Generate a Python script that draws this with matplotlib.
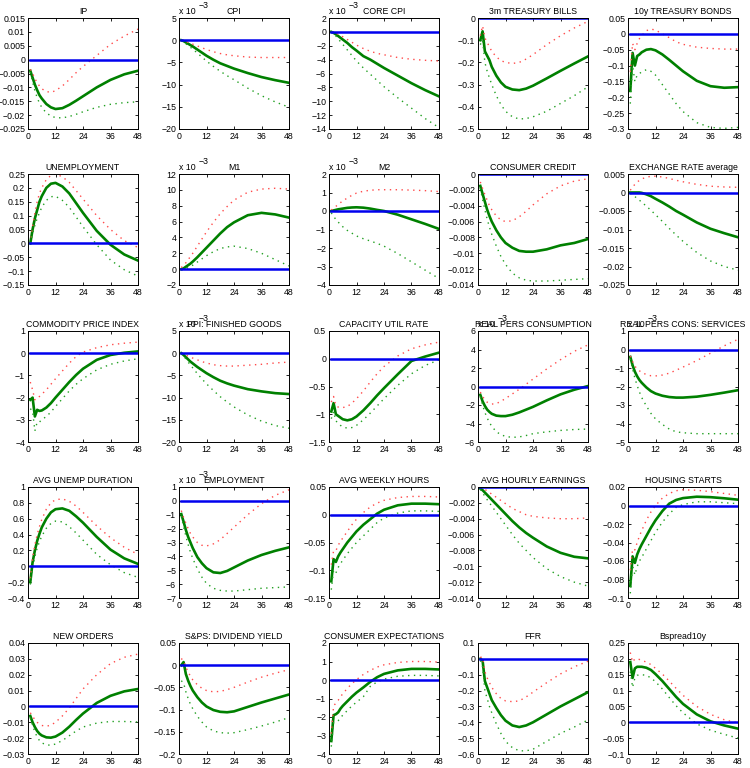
import matplotlib
matplotlib.use('Agg')
import matplotlib.pyplot as plt
from matplotlib.ticker import MultipleLocator, FuncFormatter

plt.rcParams['font.family'] = ['Liberation Sans', 'DejaVu Sans']

H = [1, 2, 3, 4, 5, 6, 8, 10, 12, 15, 18, 21, 24, 30, 36, 42, 48]

# --- row 1 ---
IP = [-0.004, -0.0065, -0.009, -0.011, -0.0128, -0.014, -0.016, -0.0172, -0.0178, -0.0175, -0.0163, -0.0148, -0.0132, -0.0100, -0.0073, -0.0053, -0.004]
IP_HI = [-0.0035, -0.005, -0.0068, -0.0083, -0.0095, -0.0105, -0.0115, -0.0118, -0.0112, -0.0095, -0.0072, -0.0047, -0.0025, 0.0015, 0.0055, 0.0085, 0.011]
IP_LO = [-0.0045, -0.008, -0.0112, -0.0137, -0.0157, -0.0172, -0.0192, -0.0203, -0.0209, -0.021, -0.0205, -0.0197, -0.0188, -0.0172, -0.0161, -0.0155, -0.0152]

CPI = [0, -0.2, -0.5, -0.8, -1.1, -1.4, -2.1, -2.8, -3.5, -4.4, -5.2, -5.8, -6.4, -7.4, -8.3, -9.0, -9.6]
CPI_HI = [0, -0.1, -0.3, -0.5, -0.7, -0.9, -1.3, -1.7, -2.1, -2.6, -3.0, -3.3, -3.5, -3.8, -3.9, -3.9, -3.9]
CPI_LO = [0, -0.4, -0.8, -1.2, -1.6, -2.0, -2.9, -3.8, -4.7, -5.9, -7.0, -8.0, -8.9, -10.8, -12.5, -13.9, -15.1]

CORE = [0, -0.15, -0.35, -0.6, -0.85, -1.1, -1.6, -2.2, -2.7, -3.5, -4.0, -4.6, -5.2, -6.3, -7.4, -8.4, -9.3]
CORE_HI = [0, -0.1, -0.2, -0.35, -0.5, -0.7, -1.1, -1.5, -1.9, -2.4, -2.8, -3.1, -3.3, -3.7, -3.95, -4.1, -4.2]
CORE_LO = [0, -0.3, -0.6, -1.0, -1.4, -1.8, -2.6, -3.4, -4.2, -5.2, -6.1, -7.0, -7.9, -9.5, -11.0, -12.5, -13.8]

TB3 = [-0.10, -0.06, -0.15, -0.17, -0.19, -0.22, -0.26, -0.29, -0.31, -0.322, -0.325, -0.318, -0.305, -0.272, -0.238, -0.205, -0.173]
TB3_HI = [-0.08, -0.035, -0.09, -0.11, -0.13, -0.15, -0.175, -0.192, -0.20, -0.205, -0.20, -0.185, -0.165, -0.12, -0.08, -0.045, -0.015]
TB3_LO = [-0.12, -0.10, -0.20, -0.24, -0.27, -0.30, -0.35, -0.39, -0.42, -0.445, -0.455, -0.453, -0.445, -0.42, -0.385, -0.35, -0.31]

TB10 = [-0.18, -0.06, -0.10, -0.07, -0.065, -0.058, -0.05, -0.048, -0.052, -0.065, -0.082, -0.10, -0.118, -0.148, -0.165, -0.17, -0.168]
TB10_HI = [-0.12, -0.03, -0.05, -0.03, -0.015, -0.005, 0.01, 0.015, 0.012, 0.0, -0.012, -0.025, -0.033, -0.042, -0.046, -0.048, -0.048]
TB10_LO = [-0.22, -0.10, -0.15, -0.13, -0.125, -0.12, -0.113, -0.118, -0.13, -0.16, -0.19, -0.22, -0.245, -0.28, -0.295, -0.298, -0.295]

# --- row 2 ---
UNEMP = [0.0, 0.05, 0.09, 0.12, 0.15, 0.17, 0.20, 0.215, 0.218, 0.205, 0.18, 0.145, 0.11, 0.045, -0.005, -0.04, -0.062]
UNEMP_HI = [0.0, 0.06, 0.11, 0.15, 0.18, 0.20, 0.23, 0.245, 0.25, 0.24, 0.22, 0.19, 0.16, 0.10, 0.05, 0.01, -0.015]
UNEMP_LO = [0.0, 0.035, 0.065, 0.09, 0.11, 0.13, 0.155, 0.168, 0.17, 0.155, 0.13, 0.095, 0.06, -0.005, -0.06, -0.095, -0.118]

M1 = [0, 0.1, 0.3, 0.5, 0.7, 0.95, 1.5, 2.1, 2.7, 3.6, 4.5, 5.3, 5.9, 6.8, 7.1, 6.9, 6.5]
M1_HI = [0.2, 0.5, 0.8, 1.2, 1.6, 2.0, 2.9, 3.8, 4.7, 5.9, 7.0, 7.9, 8.7, 9.7, 10.1, 10.2, 10.1]
M1_LO = [-0.1, -0.05, 0.05, 0.2, 0.35, 0.5, 0.9, 1.3, 1.7, 2.2, 2.6, 2.8, 2.9, 2.6, 2.0, 1.2, 0.4]

M2 = [0, 0.03, 0.06, 0.09, 0.11, 0.13, 0.17, 0.19, 0.2, 0.18, 0.13, 0.06, 0.0, -0.2, -0.45, -0.7, -0.97]
M2_HI = [0.05, 0.15, 0.25, 0.35, 0.45, 0.55, 0.7, 0.85, 0.97, 1.07, 1.12, 1.15, 1.15, 1.15, 1.13, 1.1, 1.05]
M2_LO = [-0.1, -0.3, -0.45, -0.6, -0.72, -0.85, -1.05, -1.2, -1.35, -1.5, -1.62, -1.75, -1.9, -2.3, -2.75, -3.2, -3.65]

CREDIT = [-0.0015, -0.0025, -0.0035, -0.0045, -0.0053, -0.006, -0.0071, -0.008, -0.0087, -0.0093, -0.0097, -0.0098, -0.0098, -0.0095, -0.009, -0.0087, -0.0082]
CREDIT_HI = [-0.001, -0.0018, -0.0026, -0.0033, -0.004, -0.0045, -0.0053, -0.0058, -0.006, -0.0059, -0.0054, -0.0047, -0.0039, -0.0025, -0.0015, -0.0009, -0.0006]
CREDIT_LO = [-0.0018, -0.0032, -0.0045, -0.0057, -0.0067, -0.0076, -0.0091, -0.0104, -0.0114, -0.0125, -0.0131, -0.0134, -0.0135, -0.0135, -0.0134, -0.0133, -0.0132]

EXR = [0, 0, 0, 0, 0, -0.0001, -0.0005, -0.001, -0.0017, -0.0027, -0.0038, -0.005, -0.006, -0.0081, -0.0098, -0.011, -0.0121]
EXR_HI = [0.0006, 0.0015, 0.0022, 0.0028, 0.0033, 0.0037, 0.0041, 0.0044, 0.0044, 0.0042, 0.0038, 0.0033, 0.0029, 0.0022, 0.0017, 0.0015, 0.0014]
EXR_LO = [-0.0002, -0.0006, -0.0011, -0.0016, -0.0021, -0.0026, -0.0037, -0.0048, -0.006, -0.0078, -0.0097, -0.0115, -0.0132, -0.0162, -0.0185, -0.02, -0.021]

# --- row 3 ---
COMM = [-2.1, -2.0, -2.85, -2.55, -2.6, -2.58, -2.45, -2.25, -2.0, -1.65, -1.3, -0.98, -0.7, -0.3, -0.08, 0.02, 0.08]
COMM_HI = [-1.3, -1.65, -2.1, -2.0, -1.95, -1.85, -1.65, -1.4, -1.15, -0.8, -0.45, -0.15, 0.05, 0.25, 0.38, 0.45, 0.5]
COMM_LO = [-2.5, -2.6, -3.5, -3.1, -3.1, -3.0, -2.85, -2.65, -2.4, -2.05, -1.7, -1.4, -1.15, -0.75, -0.5, -0.35, -0.25]

PPI = [0, -0.4, -0.9, -1.4, -1.9, -2.3, -3.1, -3.8, -4.5, -5.4, -6.2, -6.8, -7.3, -8.1, -8.6, -9.0, -9.2]
PPI_HI = [0, -0.2, -0.4, -0.7, -0.9, -1.1, -1.5, -1.9, -2.2, -2.6, -2.8, -2.9, -2.9, -2.7, -2.5, -2.2, -2.0]
PPI_LO = [0, -0.6, -1.3, -2.0, -2.7, -3.3, -4.6, -5.8, -6.9, -8.4, -9.8, -11.0, -12.1, -13.9, -15.3, -16.3, -16.9]

CAPU = [-0.95, -0.8, -1.0, -1.03, -1.06, -1.09, -1.11, -1.09, -1.04, -0.93, -0.8, -0.66, -0.53, -0.28, -0.04, 0.04, 0.11]
CAPU_HI = [-0.78, -0.68, -0.85, -0.87, -0.88, -0.88, -0.86, -0.8, -0.72, -0.58, -0.42, -0.27, -0.14, 0.05, 0.18, 0.25, 0.3]
CAPU_LO = [-1.08, -0.95, -1.12, -1.16, -1.2, -1.23, -1.25, -1.24, -1.2, -1.1, -0.98, -0.85, -0.72, -0.48, -0.27, -0.12, -0.02]

CONS = [-0.9, -1.6, -2.1, -2.5, -2.75, -2.95, -3.15, -3.2, -3.2, -3.05, -2.8, -2.5, -2.2, -1.5, -0.85, -0.35, 0.05]
CONS_HI = [-0.6, -1.1, -1.4, -1.7, -1.8, -1.9, -1.85, -1.6, -1.3, -0.8, -0.3, 0.25, 0.8, 1.9, 2.9, 3.8, 4.5]
CONS_LO = [-1.1, -2.0, -2.8, -3.4, -3.9, -4.3, -4.9, -5.2, -5.4, -5.5, -5.45, -5.3, -5.1, -4.9, -4.75, -4.65, -4.6]

SERV = [-0.4, -0.85, -1.2, -1.45, -1.65, -1.8, -2.05, -2.25, -2.38, -2.5, -2.57, -2.6, -2.6, -2.55, -2.45, -2.33, -2.2]
SERV_HI = [-0.35, -0.65, -0.9, -1.05, -1.15, -1.25, -1.35, -1.42, -1.43, -1.38, -1.28, -1.12, -0.95, -0.6, -0.2, 0.2, 0.55]
SERV_LO = [-0.5, -1.05, -1.55, -1.95, -2.3, -2.6, -3.05, -3.45, -3.75, -4.05, -4.3, -4.45, -4.5, -4.55, -4.55, -4.55, -4.55]

# --- row 4 ---
UDUR = [-0.2, 0.05, 0.2, 0.32, 0.41, 0.49, 0.6, 0.68, 0.72, 0.73, 0.7, 0.63, 0.55, 0.37, 0.21, 0.1, 0.03]
UDUR_HI = [-0.15, 0.1, 0.27, 0.4, 0.5, 0.59, 0.72, 0.8, 0.84, 0.85, 0.82, 0.76, 0.68, 0.51, 0.36, 0.24, 0.15]
UDUR_LO = [-0.23, -0.02, 0.12, 0.23, 0.31, 0.38, 0.48, 0.54, 0.57, 0.56, 0.5, 0.42, 0.33, 0.15, 0.02, -0.08, -0.14]

EMPL = [-0.95, -1.5, -2.1, -2.6, -3.0, -3.4, -4.05, -4.5, -4.85, -5.15, -5.2, -5.05, -4.8, -4.3, -3.9, -3.6, -3.35]
EMPL_HI = [-0.7, -1.2, -1.6, -2.0, -2.35, -2.6, -3.0, -3.2, -3.25, -3.1, -2.8, -2.35, -1.9, -1.0, -0.2, 0.4, 0.8]
EMPL_LO = [-1.1, -1.85, -2.55, -3.15, -3.7, -4.15, -4.9, -5.5, -5.95, -6.3, -6.45, -6.5, -6.5, -6.4, -6.3, -6.25, -6.2]

HOURS = [-0.12, -0.08, -0.085, -0.075, -0.068, -0.062, -0.05, -0.04, -0.03, -0.018, -0.008, 0.002, 0.009, 0.017, 0.02, 0.02, 0.019]
HOURS_HI = [-0.09, -0.065, -0.065, -0.055, -0.048, -0.042, -0.03, -0.018, -0.008, 0.004, 0.014, 0.021, 0.026, 0.031, 0.033, 0.033, 0.032]
HOURS_LO = [-0.135, -0.1, -0.105, -0.095, -0.088, -0.082, -0.07, -0.06, -0.05, -0.038, -0.026, -0.014, -0.006, 0.003, 0.007, 0.007, 0.006]

EARN = [-0.0002, -0.0004, -0.0007, -0.001, -0.0013, -0.0016, -0.0022, -0.0028, -0.0034, -0.0043, -0.0051, -0.0058, -0.0064, -0.0075, -0.0083, -0.0088, -0.009]
EARN_HI = [0, -0.0001, -0.0003, -0.0005, -0.0007, -0.0009, -0.0013, -0.0017, -0.0021, -0.0027, -0.0031, -0.0035, -0.0037, -0.0039, -0.004, -0.004, -0.0039]
EARN_LO = [-0.0003, -0.0007, -0.0012, -0.0016, -0.002, -0.0024, -0.0032, -0.004, -0.0048, -0.006, -0.0071, -0.008, -0.0089, -0.0103, -0.0113, -0.012, -0.0125]

HOUS = [-0.087, -0.055, -0.062, -0.053, -0.047, -0.042, -0.033, -0.024, -0.016, -0.006, 0.002, 0.006, 0.008, 0.0095, 0.009, 0.0078, 0.0063]
HOUS_HI = [-0.07, -0.047, -0.048, -0.04, -0.033, -0.027, -0.016, -0.007, 0.0, 0.008, 0.013, 0.016, 0.017, 0.0165, 0.015, 0.013, 0.011]
HOUS_LO = [-0.095, -0.065, -0.075, -0.066, -0.06, -0.056, -0.047, -0.038, -0.029, -0.018, -0.009, -0.002, 0.001, 0.004, 0.004, 0.003, 0.002]

# --- row 5 ---
ORD = [-0.006, -0.01, -0.013, -0.0155, -0.0172, -0.0183, -0.0195, -0.0197, -0.019, -0.0165, -0.0128, -0.0085, -0.0045, 0.0022, 0.0067, 0.0095, 0.011]
ORD_HI = [-0.004, -0.006, -0.0085, -0.01, -0.0112, -0.012, -0.0125, -0.0118, -0.01, -0.006, -0.001, 0.005, 0.011, 0.02, 0.027, 0.031, 0.033]
ORD_LO = [-0.007, -0.012, -0.016, -0.0193, -0.0215, -0.023, -0.0242, -0.0245, -0.0237, -0.0215, -0.0185, -0.0155, -0.013, -0.0105, -0.0095, -0.0095, -0.0098]

DIVY = [0.0, 0.007, -0.02, -0.035, -0.047, -0.057, -0.072, -0.084, -0.093, -0.101, -0.105, -0.106, -0.104, -0.094, -0.084, -0.075, -0.066]
DIVY_HI = [0.015, 0.01, -0.005, -0.015, -0.025, -0.033, -0.044, -0.052, -0.057, -0.06, -0.059, -0.055, -0.05, -0.038, -0.027, -0.018, -0.01]
DIVY_LO = [-0.035, -0.04, -0.06, -0.075, -0.088, -0.098, -0.115, -0.128, -0.139, -0.148, -0.152, -0.153, -0.152, -0.145, -0.137, -0.128, -0.118]

EXPC = [-3.3, -1.9, -1.85, -1.75, -1.55, -1.4, -1.15, -0.9, -0.68, -0.4, -0.1, 0.15, 0.33, 0.52, 0.6, 0.6, 0.57]
EXPC_HI = [-2.9, -1.4, -1.25, -1.1, -0.9, -0.75, -0.45, -0.2, 0.02, 0.3, 0.52, 0.7, 0.82, 0.95, 1.0, 1.0, 0.97]
EXPC_LO = [-3.6, -2.3, -2.3, -2.2, -2.05, -1.9, -1.65, -1.4, -1.2, -0.9, -0.35, -0.1, 0.05, 0.2, 0.25, 0.25, 0.22]

FFR = [0.0, -0.01, -0.14, -0.18, -0.22, -0.26, -0.31, -0.355, -0.39, -0.42, -0.43, -0.42, -0.4, -0.35, -0.3, -0.255, -0.21]
FFR_HI = [0.01, 0.01, -0.08, -0.12, -0.15, -0.18, -0.22, -0.25, -0.265, -0.27, -0.265, -0.24, -0.21, -0.15, -0.095, -0.05, -0.015]
FFR_LO = [-0.01, -0.05, -0.2, -0.25, -0.3, -0.34, -0.41, -0.47, -0.52, -0.56, -0.58, -0.58, -0.57, -0.52, -0.47, -0.43, -0.385]

BSPR = [0.19, 0.14, 0.17, 0.175, 0.175, 0.175, 0.172, 0.165, 0.152, 0.13, 0.105, 0.08, 0.058, 0.025, 0.003, -0.01, -0.02]
BSPR_HI = [0.22, 0.19, 0.2, 0.2, 0.198, 0.195, 0.19, 0.182, 0.17, 0.152, 0.13, 0.107, 0.085, 0.05, 0.025, 0.008, -0.002]
BSPR_LO = [0.16, 0.11, 0.14, 0.148, 0.15, 0.15, 0.148, 0.14, 0.128, 0.105, 0.078, 0.052, 0.03, -0.005, -0.025, -0.038, -0.05]

# title, irf, upper, lower, ylim, tick step, shown in units of 1e-3
panels = [
    ('IP', IP, IP_HI, IP_LO, (-0.025, 0.015), 0.005, False),
    ('CPI', CPI, CPI_HI, CPI_LO, (-20, 5), 5, True),
    ('CORE CPI', CORE, CORE_HI, CORE_LO, (-14, 2), 2, True),
    ('3m TREASURY BILLS', TB3, TB3_HI, TB3_LO, (-0.5, 0), 0.1, False),
    ('10y TREASURY BONDS', TB10, TB10_HI, TB10_LO, (-0.3, 0.05), 0.05, False),
    ('UNEMPLOYMENT', UNEMP, UNEMP_HI, UNEMP_LO, (-0.15, 0.25), 0.05, False),
    ('M1', M1, M1_HI, M1_LO, (-2, 12), 2, True),
    ('M2', M2, M2_HI, M2_LO, (-4, 2), 1, True),
    ('CONSUMER CREDIT', CREDIT, CREDIT_HI, CREDIT_LO, (-0.014, 0), 0.002, False),
    ('EXCHANGE RATE average', EXR, EXR_HI, EXR_LO, (-0.025, 0.005), 0.005, False),
    ('COMMODITY PRICE INDEX', COMM, COMM_HI, COMM_LO, (-4, 1), 1, False),
    ('PPI: FINISHED GOODS', PPI, PPI_HI, PPI_LO, (-20, 5), 5, True),
    ('CAPACITY UTIL RATE', CAPU, CAPU_HI, CAPU_LO, (-1.5, 0.5), 0.5, False),
    ('REAL PERS CONSUMPTION', CONS, CONS_HI, CONS_LO, (-6, 6), 2, True),
    ('REAL PERS CONS: SERVICES', SERV, SERV_HI, SERV_LO, (-5, 1), 1, True),
    ('AVG UNEMP DURATION', UDUR, UDUR_HI, UDUR_LO, (-0.4, 1), 0.2, False),
    ('EMPLOYMENT', EMPL, EMPL_HI, EMPL_LO, (-7, 1), 1, True),
    ('AVG WEEKLY HOURS', HOURS, HOURS_HI, HOURS_LO, (-0.15, 0.05), 0.05, False),
    ('AVG HOURLY EARNINGS', EARN, EARN_HI, EARN_LO, (-0.014, 0), 0.002, False),
    ('HOUSING STARTS', HOUS, HOUS_HI, HOUS_LO, (-0.1, 0.02), 0.02, False),
    ('NEW ORDERS', ORD, ORD_HI, ORD_LO, (-0.03, 0.04), 0.01, False),
    ('S&PS: DIVIDEND YIELD', DIVY, DIVY_HI, DIVY_LO, (-0.2, 0.05), 0.05, False),
    ('CONSUMER EXPECTATIONS', EXPC, EXPC_HI, EXPC_LO, (-4, 2), 1, False),
    ('FFR', FFR, FFR_HI, FFR_LO, (-0.6, 0.1), 0.1, False),
    ('Bspread10y', BSPR, BSPR_HI, BSPR_LO, (-0.1, 0.25), 0.05, False),
]

ZERO = [0.0] * len(H)

W, HT = 750, 768
col_left = [28, 179, 329, 478, 628]
row_top = [18, 174, 331, 487, 643]
aw, ah = 110, 111


def fmt(v, pos):
    if abs(v) < 1e-12:
        return '0'
    return ('%g' % round(v, 6)).replace('-', '\u2212')


fig = plt.figure(figsize=(W / 100, HT / 100), dpi=100)
fs = 6.3

for i, (title, irf, hi, lo, ylim, step, scaled) in enumerate(panels):
    r, c = divmod(i, 5)
    ax = fig.add_axes([col_left[c] / W, 1 - (row_top[r] + ah) / HT, aw / W, ah / HT])
    ax.plot(H, irf, color=(0, 0.5, 0), lw=1.9)
    ax.plot(H, hi, color='#ff4a4a', lw=1.0, ls=(0, (1, 3.2)))
    ax.plot(H, lo, color='#22a022', lw=1.0, ls=(0, (1, 3.2)))
    ax.plot(H, ZERO, color='#0000ee', lw=1.8)
    ax.set_xlim(0, 48)
    ax.set_ylim(*ylim)
    ax.set_xticks([0, 12, 24, 36, 48])
    ax.yaxis.set_major_locator(MultipleLocator(step))
    ax.yaxis.set_major_formatter(FuncFormatter(fmt))
    ax.tick_params(direction='in', length=2.5, width=0.6, labelsize=fs,
                   top=True, right=True, pad=2)
    for s in ax.spines.values():
        s.set_linewidth(0.7)
    ax.set_title(title, fontsize=fs, pad=3)
    if scaled:
        ax.text(0.0, 1.015, 'x 10', transform=ax.transAxes, fontsize=fs,
                ha='left', va='bottom')
        ax.text(0.18, 1.075, '\u22123', transform=ax.transAxes, fontsize=fs,
                ha='left', va='bottom')

fig.savefig('out.png', dpi=100)
